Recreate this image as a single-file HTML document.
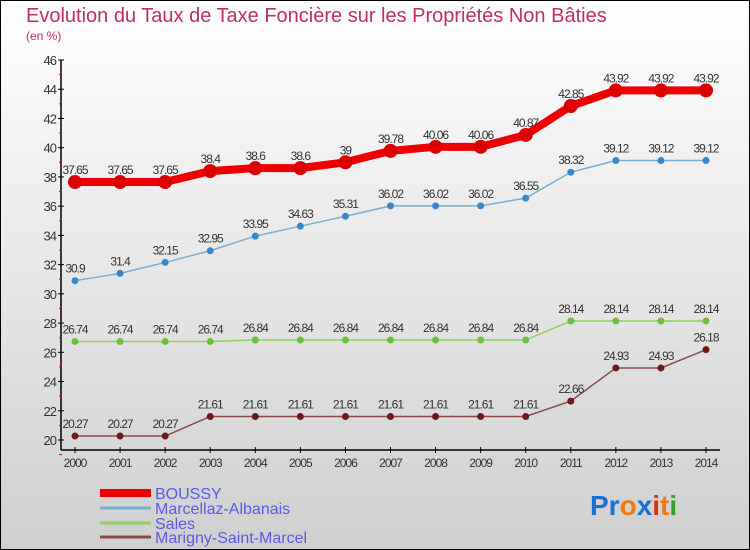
<!DOCTYPE html>
<html><head><meta charset="utf-8"><style>
body{margin:0}
#c{width:750px;height:550px;position:relative;box-sizing:border-box;border:1px solid #000;background:linear-gradient(#ffffff,#cfcfcf);font-family:"Liberation Sans",sans-serif;overflow:hidden}
</style></head><body>
<div id="c">
<svg id="s" width="750" height="550" style="position:absolute;left:-1px;top:-1px">
<text x="26" y="22" font-size="20" fill="#c0305a">Evolution du Taux de Taxe Foncière sur les Propriétés Non Bâties</text>
<text x="26" y="40" font-size="12" fill="#c0305a">(en %)</text>
<g id="g"></g>
<text x="590" y="515" font-size="28" font-weight="bold"><tspan fill="#1a6fd0">Pr</tspan><tspan fill="#f07a10">o</tspan><tspan fill="#1a6fd0">x</tspan><tspan fill="#e03010">i</tspan><tspan fill="#f07a10">t</tspan><tspan fill="#30a030">i</tspan></text>
</svg>
</div>
<script>
const years=[2000,2001,2002,2003,2004,2005,2006,2007,2008,2009,2010,2011,2012,2013,2014];
const yTicks=[20,22,24,26,28,30,32,34,36,38,40,42,44,46];
const boussy=[37.65,37.65,37.65,38.4,38.6,38.6,39,39.78,40.06,40.06,40.87,42.85,43.92,43.92,43.92];
const marcellaz=[30.9,31.4,32.15,32.95,33.95,34.63,35.31,36.02,36.02,36.02,36.55,38.32,39.12,39.12,39.12];
const sales=[26.74,26.74,26.74,26.74,26.84,26.84,26.84,26.84,26.84,26.84,26.84,28.14,28.14,28.14,28.14];
const marigny=[20.27,20.27,20.27,21.61,21.61,21.61,21.61,21.61,21.61,21.61,21.61,22.66,24.93,24.93,26.18];
const names=["BOUSSY","Marcellaz-Albanais","Sales","Marigny-Saint-Marcel"];
const NS="http://www.w3.org/2000/svg";
const g=document.getElementById('g');
const X=i=>75+i*(706-75)/(years.length-1);
const Y=v=>440-(v-20)*(380/26);
function mk(t,a,p){const e=document.createElementNS(NS,t);for(const k in a)e.setAttribute(k,a[k]);(p||g).appendChild(e);return e;}
// axes
let ax=mk('line',{x1:61,y1:60,x2:61,y2:450,stroke:'#000','stroke-width':1.5});


let xa=mk('line',{x1:61,y1:450,x2:720,y2:450,stroke:'#000','stroke-width':1.5});


yTicks.forEach(v=>{const y=Y(v);
 mk('line',{x1:58,y1:y,x2:64,y2:y,stroke:'#000'});
 mk('line',{x1:59,y1:y+14.6,x2:62,y2:y+14.6,stroke:'#e00'});
 const t=mk('text',{x:56,y:y+5,'font-size':13,'text-anchor':'end',fill:'#333','letter-spacing':'-1'});t.textContent=v;
 
 
});
years.forEach((yr,i)=>{const x=X(i);
 mk('line',{x1:x,y1:447,x2:x,y2:453,stroke:'#000'});
 const t=mk('text',{x:x,y:467,'font-size':12,'text-anchor':'middle',fill:'#333','letter-spacing':'-1'});t.textContent=yr;
 
 
});
const series=[[boussy,'#ee0000',8,7,'#dd0000'],[marcellaz,'#7aaed0',1.5,3.5,'#3a86c8'],[sales,'#90d060',1.5,3.5,'#70c040'],[marigny,'#8a4a4a',1.5,3.5,'#6a1a1a']];
series.forEach((s,si)=>{const [d,c,w,r,fc]=s;
 const pl=mk('polyline',{points:d.map((v,i)=>X(i)+','+Y(v)).join(' '),fill:'none',stroke:c,'stroke-width':w});
 
 
 d.forEach((v,i)=>{const p=mk('circle',{cx:X(i),cy:Y(v),r:r,fill:fc});
  
  
  const t=mk('text',{x:X(i),y:Y(v)-8,'font-size':12,'text-anchor':'middle',fill:'#333','letter-spacing':'-1'});t.textContent=v;
  
  
 });
 const ly=[493,508,523,537][si];
 const ll=mk('line',{x1:100,y1:ly,x2:151,y2:ly,stroke:c,'stroke-width':si==0?8:3});
 
 
 const lt=mk('text',{x:155,y:ly+6,'font-size':16,fill:'#5a5ae8'});lt.textContent=names[si];
 
 
});
</script>
</body></html>
